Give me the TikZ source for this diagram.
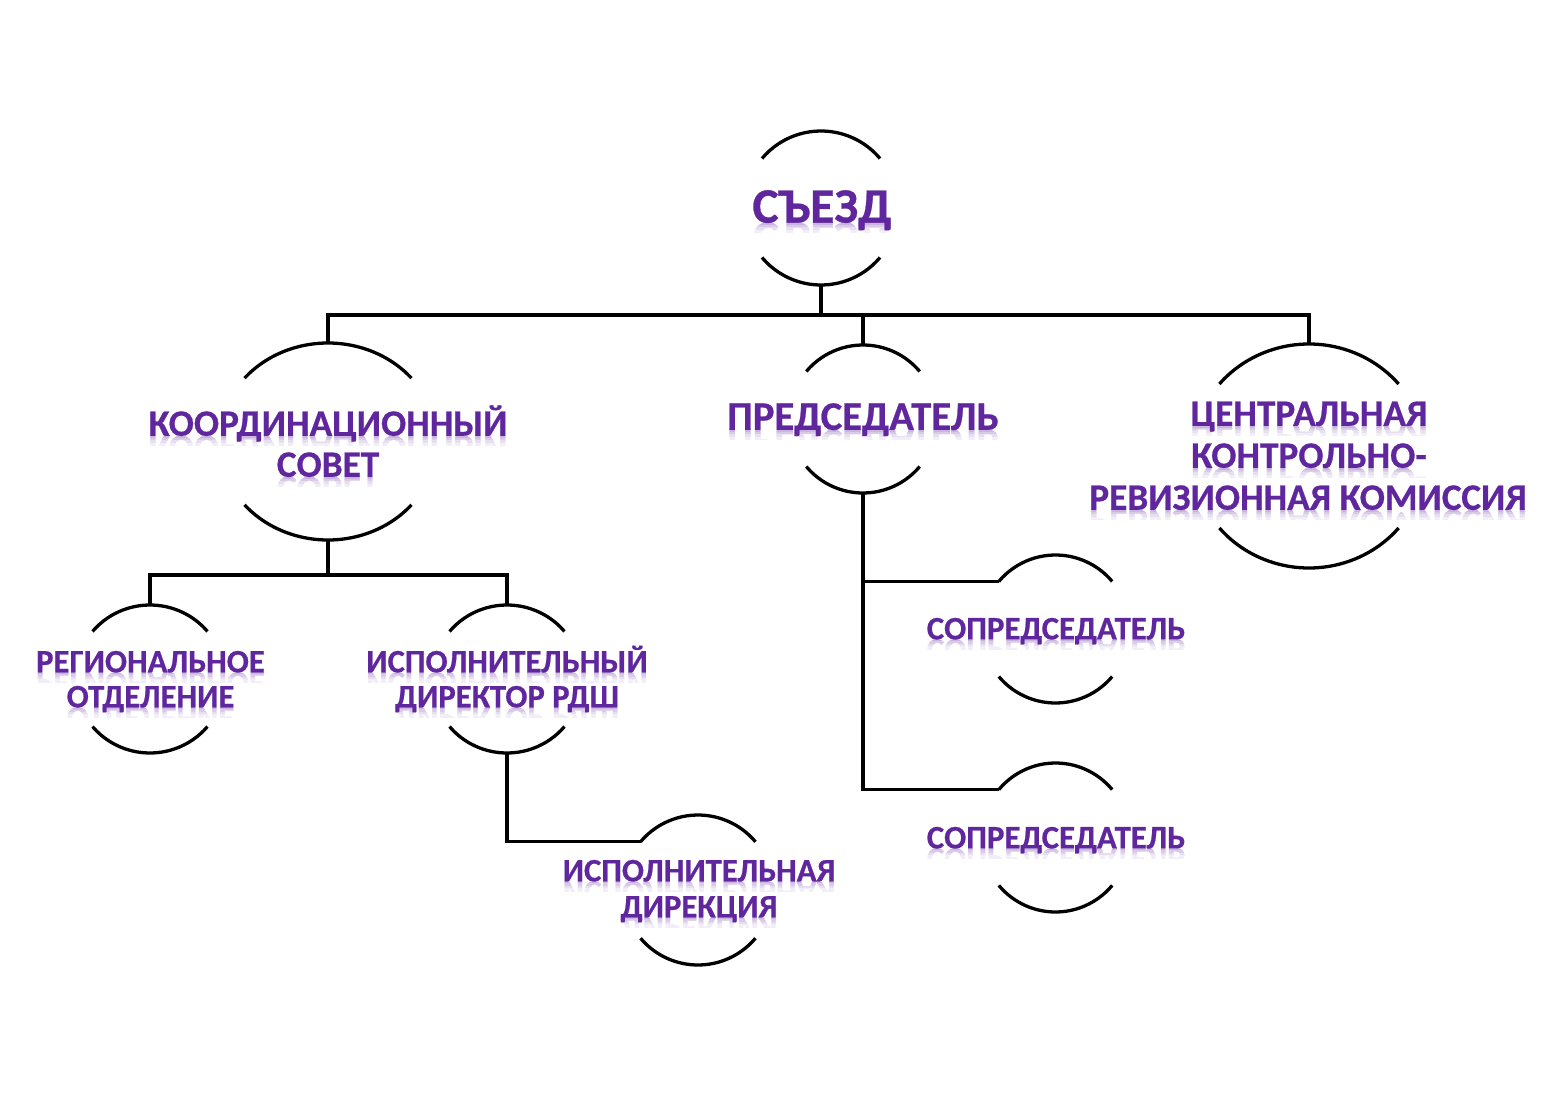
\documentclass[tikz,border=0pt]{standalone}
\usepackage{fontspec}
\setmainfont{Carlito}[BoldFeatures={FakeBold=0.6}]
\usepackage{graphicx}
\definecolor{orgpurple}{RGB}{96,38,158}
\tikzset{
  arcline/.style={draw=black, line width=3.3pt},
  conn/.style={draw=black, line width=3.3pt, line join=miter},
  lbl/.style={text=orgpurple, inner sep=0pt, outer sep=0pt},
}
% name, cx, cy, rx, ry
\newcommand\orgunit[5]{%
  \coordinate (#1) at (#2,#3);
  \draw[arcline] (#1) ++(220:#4 and #5) coordinate (#1-tl)
    arc[start angle=220,end angle=320,x radius=#4,y radius=#5];
  \draw[arcline] (#1) ++(40:#4 and #5)
    arc[start angle=40,end angle=140,x radius=#4,y radius=#5];
  \path (#1) ++(0,-#5) coordinate (#1-t);
  \path (#1) ++(0,#5) coordinate (#1-b);
}
% name, x, cap-centre y, font size, text
\newcommand\txtline[5]{%
  \pgfmathsetmacro\tlbase{#3+0.316*#4}%
  \foreach \ra/\rb/\rc in {0/2.5/34,2.5/5/24,5/7.5/15,7.5/10/8}{%
    \begin{scope}
      \clip (#2-400,\tlbase+\ra) rectangle (#2+400,\tlbase+\rb);
      \node[lbl, text=orgpurple!\rc, anchor=base,
        font=\fontsize{#4pt}{#4pt}\selectfont\bfseries] (#1-refl) at (#2,\tlbase)
        {\scalebox{1}[-1]{#5}};
    \end{scope}
  }%
  \node[lbl, anchor=base, font=\fontsize{#4pt}{#4pt}\selectfont\bfseries]
    (#1) at (#2,\tlbase) {#5};
}
\begin{document}
\begin{tikzpicture}[x=1pt,y=-1pt]
\useasboundingbox (0,0) rectangle (1560,1097);
\fill[white] (0,0) rectangle (1560,1097);

% units
\orgunit{sz}{821}{208}{77}{77}
\orgunit{kc}{328}{441.5}{109}{98.5}
\orgunit{pr}{863}{419}{74}{74}
\orgunit{ck}{1309}{456}{117}{112}
\orgunit{rg}{150}{679}{75}{74}
\orgunit{dr}{507}{679}{75}{74}
\orgunit{di}{698}{890}{75}{75}
\orgunit{spa}{1055.5}{629}{74}{74}
\orgunit{spb}{1055.5}{837.5}{74}{74.5}

% texts
\txtline{szT}{822}{207}{49.5}{СЪЕЗД}
\txtline{kcA}{328}{424}{37.3}{КООРДИНАЦИОННЫЙ}
\txtline{kcB}{328}{465}{37.3}{СОВЕТ}
\txtline{prT}{863}{417}{40.7}{ПРЕДСЕДАТЕЛЬ}
\txtline{ckA}{1309}{414}{37.3}{ЦЕНТРАЛЬНАЯ}
\txtline{ckB}{1309}{456}{37.3}{КОНТРОЛЬНО-}
\txtline{ckC}{1308}{498}{37.3}{РЕВИЗИОННАЯ КОМИССИЯ}
\txtline{rgA}{150.5}{662}{32.7}{РЕГИОНАЛЬНОЕ}
\txtline{rgB}{150.5}{697}{32.7}{ОТДЕЛЕНИЕ}
\txtline{drA}{507}{662}{32.7}{ИСПОЛНИТЕЛЬНЫЙ}
\txtline{drB}{507}{697}{32.7}{ДИРЕКТОР РДШ}
\txtline{diA}{699}{871}{32.7}{ИСПОЛНИТЕЛЬНАЯ}
\txtline{diB}{699}{907}{32.7}{ДИРЕКЦИЯ}
\txtline{spaT}{1056}{629}{32.8}{СОПРЕДСЕДАТЕЛЬ}
\txtline{spbT}{1056}{838}{32.8}{СОПРЕДСЕДАТЕЛЬ}

% connectors
\coordinate (bus1) at (821,315);
\coordinate (bus2) at (328,575);
\draw[conn] (sz-b) -- (bus1);
\draw[conn] (kc-t) |- (bus1) -| (ck-t);
\draw[conn] (pr-t) -- (pr-t |- bus1);
\draw[conn] (kc-b) -- (bus2);
\draw[conn] (rg-t) |- (bus2) -| (dr-t);
\draw[conn] (pr-b) |- (spb-tl);
\draw[conn] (pr-b |- spa-tl) -- (spa-tl);
\draw[conn] (dr-b) |- (di-tl);
\end{tikzpicture}
\end{document}
